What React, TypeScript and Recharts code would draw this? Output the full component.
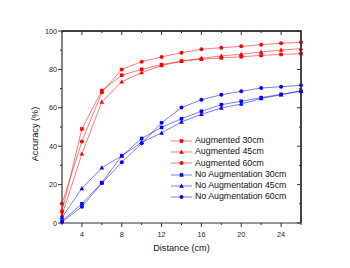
import React from 'react';
import { LineChart, Line, XAxis, YAxis, CartesianGrid } from 'recharts';

const distances = [2, 4, 6, 8, 10, 12, 14, 16, 18, 20, 22, 24, 26];

const aug30 = [6, 49, 69, 77, 80, 82.5, 84.4, 85.3, 86, 86.6, 87.3, 87.8, 88.2];
const aug45 = [4, 36, 63, 73.6, 78.3, 82, 84.2, 85.8, 87, 87.9, 89.1, 90.1, 90.8];
const aug60 = [10, 42.5, 68, 80, 84, 86.5, 88.7, 90.5, 91.3, 92, 92.9, 93.6, 94.1];
const noAug30 = [1, 10, 21, 35, 44, 49.8, 54.3, 58.2, 61.6, 63.4, 65.3, 67, 68.6];
const noAug45 = [3, 18, 28.8, 35, 42, 46.9, 52.6, 56.6, 59.9, 62, 64.8, 66.8, 68.9];
const noAug60 = [0.5, 8.5, 20.7, 31.6, 41.5, 52.2, 60.1, 64.2, 66.8, 68.6, 70.3, 71, 71.7];

const xTicks = [2, 4, 6, 8, 10, 12, 14, 16, 18, 20, 22, 24, 26];
const yTicks = [0, 10, 20, 30, 40, 50, 60, 70, 80, 90, 100];
const xDomain = [2, 26];
const yDomain = [0, 100];

const RED = '#ff0000';
const BLUE = '#0000ff';
const AXIS = '#333';
const FONT = 'Arial, "Liberation Sans", sans-serif';

const W = 350;
const H = 268;
const MARGIN = { top: 31, right: 49, bottom: 15, left: 22 };
const Y_AXIS_W = 40;
const X_AXIS_H = 30;

type Shape = 'square' | 'triangle' | 'circle';

const series: Array<{ key: string; name: string; color: string; shape: Shape; values: number[] }> = [
  { key: 'aug30', name: 'Augmented 30cm', color: RED, shape: 'square', values: aug30 },
  { key: 'aug45', name: 'Augmented 45cm', color: RED, shape: 'triangle', values: aug45 },
  { key: 'aug60', name: 'Augmented 60cm', color: RED, shape: 'circle', values: aug60 },
  { key: 'noAug30', name: 'No Augmentation 30cm', color: BLUE, shape: 'square', values: noAug30 },
  { key: 'noAug45', name: 'No Augmentation 45cm', color: BLUE, shape: 'triangle', values: noAug45 },
  { key: 'noAug60', name: 'No Augmentation 60cm', color: BLUE, shape: 'circle', values: noAug60 },
];

const data = distances.map((d, i) => {
  const row: any = { distance: d };
  series.forEach((s) => (row[s.key] = s.values[i]));
  return row;
});

const Marker = ({ cx, cy, shape, color }: { cx: number; cy: number; shape: Shape; color: string }) => {
  if (shape === 'square') {
    return <rect x={cx - 1.8} y={cy - 1.8} width={3.6} height={3.6} fill={color} />;
  }
  if (shape === 'triangle') {
    return <polygon points={`${cx},${cy - 2.5} ${cx - 2.3},${cy + 1.7} ${cx + 2.3},${cy + 1.7}`} fill={color} />;
  }
  return <circle cx={cx} cy={cy} r={2} fill={color} />;
};

// tick renderers: tickSize/tickMargin are 0 so x/y sit right on the axis line
const BottomTick = ({ x, y, payload }: any) => {
  const v = payload.value;
  const major = v % 4 === 0;
  return (
    <g>
      <line x1={x} x2={x} y1={y} y2={y + (major ? 4 : 2)} stroke={AXIS} />
      {major && (
        <text x={x} y={y + 13.5} textAnchor="middle" fontSize={7.2} fontFamily={FONT} fill="#222">
          {v}
        </text>
      )}
    </g>
  );
};

const LeftTick = ({ x, y, payload }: any) => {
  const v = payload.value;
  const major = v % 20 === 0;
  return (
    <g>
      <line x1={x} x2={x - (major ? 4 : 2)} y1={y} y2={y} stroke={AXIS} />
      {major && (
        <text x={x - 5} y={y + 2.6} textAnchor="end" fontSize={7.2} fontFamily={FONT} fill="#222">
          {v}
        </text>
      )}
    </g>
  );
};

// inward ticks along the top and right edges of the plot box
const FrameTicks = () => {
  const left = MARGIN.left + Y_AXIS_W;
  const right = W - MARGIN.right;
  const top = MARGIN.top;
  const bottom = H - MARGIN.bottom - X_AXIS_H;
  const sx = (v: number) => left + ((v - xDomain[0]) / (xDomain[1] - xDomain[0])) * (right - left);
  const sy = (v: number) => bottom - ((v - yDomain[0]) / (yDomain[1] - yDomain[0])) * (bottom - top);
  return (
    <svg width={W} height={H} style={{ position: 'absolute', left: 0, top: 0, pointerEvents: 'none', zIndex: 5 }}>
      <path d={`M${left},${top}H${right}V${bottom}`} fill="none" stroke={AXIS} strokeWidth={1.4} />
      {xTicks.map((t) => (
        <line key={`t${t}`} x1={sx(t)} x2={sx(t)} y1={top} y2={top + (t % 4 === 0 ? 4 : 2)} stroke={AXIS} />
      ))}
      {yTicks.map((t) => (
        <line key={`r${t}`} x1={right} x2={right - (t % 20 === 0 ? 4 : 2)} y1={sy(t)} y2={sy(t)} stroke={AXIS} />
      ))}
    </svg>
  );
};

// legend sits inside the plot, lower right
const LegendBox = () => (
  <div style={{ position: 'absolute', left: 171, top: 135, zIndex: 6, fontFamily: FONT, fontSize: 8.8, lineHeight: '11.3px', color: '#111' }}>
    {series.map((s) => (
      <div key={s.key} style={{ display: 'flex', alignItems: 'center', height: 11.3 }}>
        <svg width={23} height={8} style={{ marginRight: 1, flex: 'none' }}>
          <line x1={0} x2={21} y1={4} y2={4} stroke={s.color} strokeWidth={0.8} strokeOpacity={0.65} />
          <Marker cx={10.5} cy={4} shape={s.shape} color={s.color} />
        </svg>
        <span style={{ whiteSpace: 'nowrap' }}>{s.name}</span>
      </div>
    ))}
  </div>
);

export default function App() {
  return (
    <div style={{ position: 'absolute', left: 0, top: 0, width: W, height: H, background: '#fff' }}>
      <LineChart width={W} height={H} data={data} margin={MARGIN}>
        <CartesianGrid
          stroke={AXIS}
          strokeWidth={1.4}
          strokeOpacity={1}
          horizontalCoordinatesGenerator={({ offset }: any) => [offset.top]}
          verticalCoordinatesGenerator={({ offset }: any) => [offset.left + offset.width]}
        />
        <XAxis
          dataKey="distance"
          type="number"
          domain={xDomain}
          ticks={xTicks}
          interval={0}
          tickSize={0}
          tickMargin={0}
          tickLine={false}
          axisLine={{ stroke: AXIS, strokeWidth: 1.2 }}
          tick={<BottomTick />}
          height={X_AXIS_H}
          label={{
            content: ({ viewBox }: any) => (
              <text
                x={viewBox.x + viewBox.width / 2}
                y={viewBox.y + 27.5}
                textAnchor="middle"
                fontSize={9.2}
                fontFamily={FONT}
                fill="#111"
              >
                Distance (cm)
              </text>
            ),
          }}
        />
        <YAxis
          type="number"
          domain={yDomain}
          ticks={yTicks}
          interval={0}
          tickSize={0}
          tickMargin={0}
          tickLine={false}
          axisLine={{ stroke: AXIS, strokeWidth: 1.2 }}
          tick={<LeftTick />}
          width={Y_AXIS_W}
          label={{
            content: ({ viewBox }: any) => (
              <text
                transform={`translate(${viewBox.x + 15.5},${viewBox.y + viewBox.height / 2 + 7}) rotate(-90)`}
                textAnchor="middle"
                fontSize={9.2}
                fontFamily={FONT}
                fill="#111"
              >
                Accuracy (%)
              </text>
            ),
          }}
        />
        {series.map((s) => (
          <Line
            key={s.key}
            dataKey={s.key}
            name={s.name}
            stroke={s.color}
            strokeWidth={0.8}
            strokeOpacity={0.65}
            isAnimationActive={false}
            dot={(p: any) => <Marker key={`${s.key}-${p.index}`} cx={p.cx} cy={p.cy} shape={s.shape} color={s.color} />}
            activeDot={false}
          />
        ))}
      </LineChart>
      <FrameTicks />
      <LegendBox />
    </div>
  );
}
